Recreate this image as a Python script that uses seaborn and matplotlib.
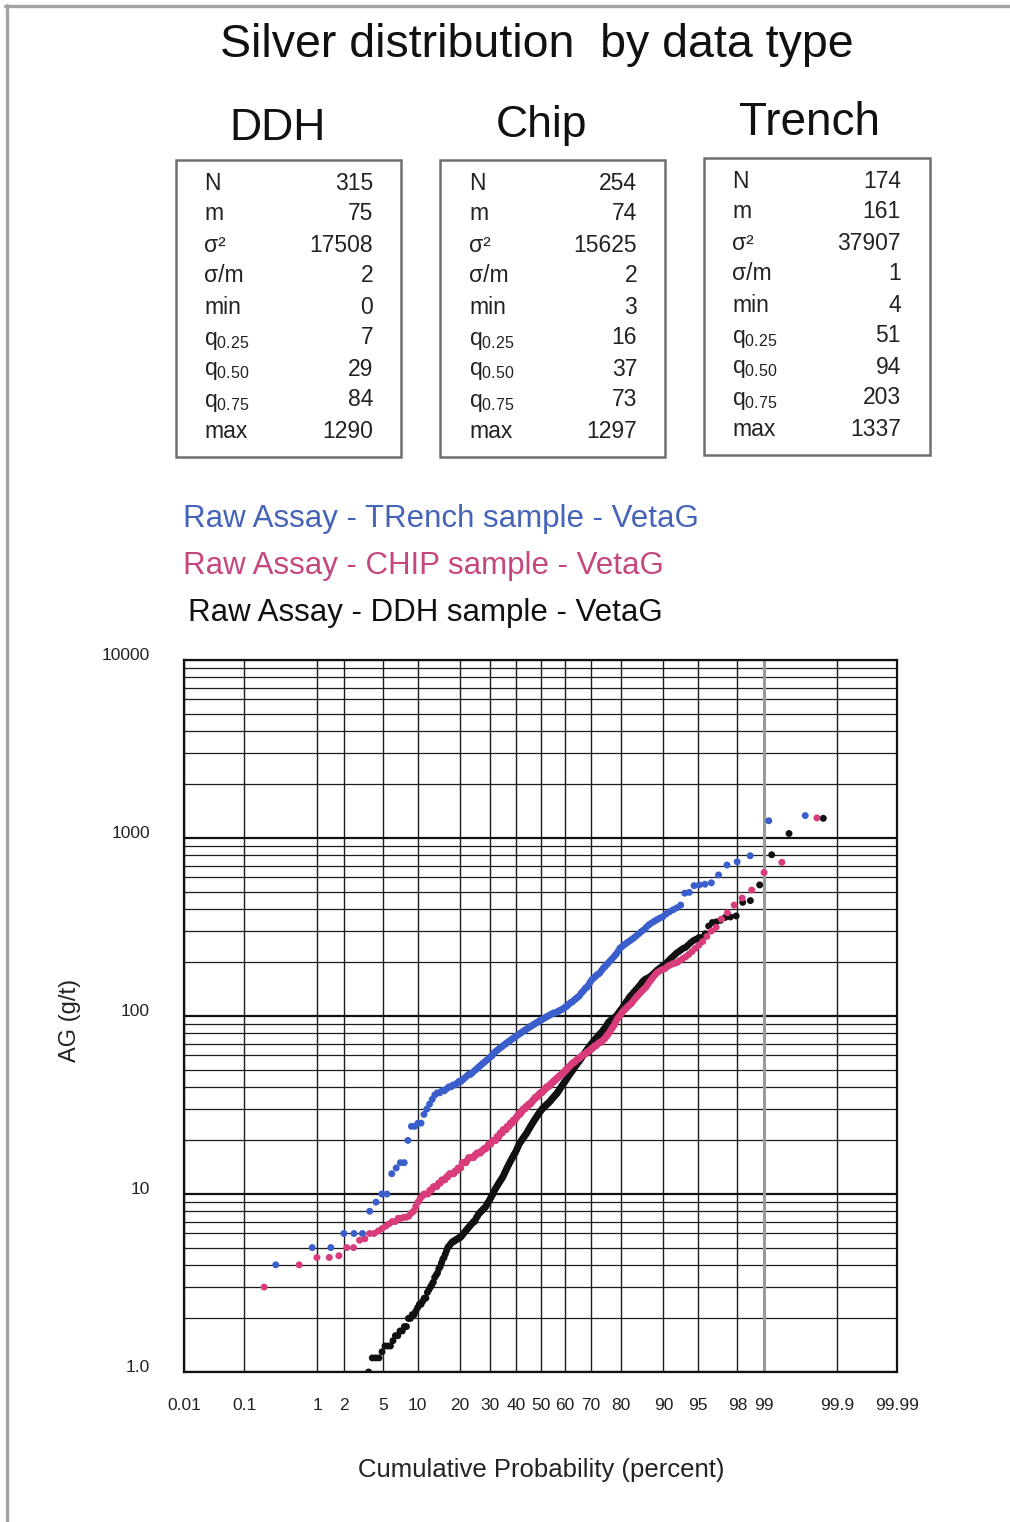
import math
import numpy as np
import pandas as pd
import matplotlib
matplotlib.use("Agg")
import matplotlib.pyplot as plt
import matplotlib.transforms as mtransforms
from matplotlib.lines import Line2D
from matplotlib.patches import Rectangle
from matplotlib.ticker import NullLocator, NullFormatter, FixedLocator
import seaborn as sns

# ---------------------------------------------------------------------------
# Sorted silver assays (g/t) for each sample type
# ---------------------------------------------------------------------------
ddh_ag = [
    0, 0.3, 0.4, 0.5, 0.5, 0.5, 0.6, 0.7, 0.8, 0.8, 0.9,
    1.0, 1.2, 1.2, 1.2,
    1.3, 1.4, 1.4, 1.4, 1.5,
    1.6, 1.6, 1.7, 1.7, 1.8,
    1.8, 2.0, 2.0, 2.1, 2.1,
    2.2, 2.3, 2.4, 2.4, 2.5,
    2.6, 2.6, 2.8, 2.9, 3.0,
    3.1, 3.2, 3.4, 3.5, 3.6,
    3.8, 3.9, 4.1, 4.3, 4.4,
    4.6, 4.8, 5.0, 5.1, 5.2, 5.3, 5.4, 5.4, 5.5, 5.5,
    5.6, 5.6, 5.7, 5.7, 5.8, 5.9, 6.0, 6.1, 6.2, 6.3,
    6.4, 6.5, 6.6, 6.7, 6.8, 6.9, 7.0, 7.0, 7.2, 7.4,
    7.5, 7.7, 7.8, 7.9, 8.0, 8.1, 8.2, 8.3, 8.4, 8.5,
    8.7, 8.9, 9.0, 9.2, 9.4, 9.6, 9.8, 10.0, 10.2, 10.5,
    10.7, 10.9, 11.1, 11.3, 11.5, 11.7, 11.9, 12.1, 12.3, 12.5,
    12.8, 13.1, 13.4, 13.7, 14.0, 14.3, 14.6, 14.9, 15.2, 15.5,
    15.8, 16.1, 16.4, 16.7, 17.0, 17.3, 17.7, 18.1, 18.5, 19.0,
    19.3, 19.6, 19.9, 20.2, 20.5, 20.8, 21.1, 21.4, 21.7, 22.0,
    22.4, 22.8, 23.2, 23.6, 24.0, 24.4, 24.8, 25.2, 25.6, 26.0,
    26.4, 26.8, 27.2, 27.6, 28.0, 28.4, 28.8, 29.2, 29.6, 30.0,
    30.3, 30.6, 30.9, 31.2, 31.5, 31.8, 32.1, 32.4, 32.7, 33.0,
    33.4, 33.8, 34.2, 34.6, 35.0, 35.4, 35.8, 36.2, 36.6, 37.0,
    37.6, 38.2, 38.8, 39.4, 40.0, 40.6, 41.2, 41.8, 42.4, 43.0,
    43.7, 44.4, 45.1, 45.8, 46.5, 47.2, 47.9, 48.6, 49.3, 50.0,
    50.8, 51.6, 52.4, 53.2, 54.0, 54.8, 55.6, 56.4, 57.2, 58.0,
    59, 60, 61, 62, 63, 64, 65, 66, 67, 68,
    69, 70, 71, 72, 73, 74, 75, 76, 77, 78,
    79, 80, 81, 82, 84, 85, 86, 88, 90, 92,
    93, 94, 95, 96, 97, 98, 99, 100, 102, 104,
    106, 108, 110, 112, 115, 117, 120, 122, 125, 128,
    130, 132, 135, 137, 140, 142, 145, 148, 151, 155,
    158, 160, 162, 163, 165, 167, 170, 173, 176, 180,
    183, 186, 189, 192, 195, 200, 205, 210,
    215, 220, 226, 230, 235, 240, 243, 250, 258, 265, 270, 276,
    276, 290, 320, 335, 338, 345, 358, 360, 365, 435, 445, 545, 805, 1060, 1290,
]

chip_ag = [
    3, 4, 4.4, 4.4, 4.5, 5, 5, 5.5, 5.6, 6,
    6, 6.2, 6.4, 6.6, 6.8, 7, 7, 7.3, 7.3, 7.4,
    7.4, 7.5, 7.8, 8, 8.5, 9, 9.4, 9.7, 10, 10,
    10, 10.5, 10.5, 11, 11, 11, 11.5, 11.5, 12, 12,
    12, 12.5, 12.5, 13, 13, 13, 13, 13.5, 13.5, 14,
    14, 14, 15, 15, 15, 15, 15.5, 16, 16, 16,
    16, 16, 16.5, 16.5, 17, 17, 17, 17, 17.5, 17.5,
    18, 18, 18, 18.5, 19, 19, 19, 19.5, 20, 20,
    20, 20, 21, 21, 21, 22, 22, 22, 23, 23,
    23, 23, 24, 24, 24, 25, 25, 25, 26, 26,
    26, 27, 27, 28, 28, 28, 29, 29, 30, 30,
    30, 31, 31, 31, 32, 32, 32, 33, 33, 34,
    34, 35, 35, 35, 36, 36, 37, 37, 37, 38,
    38, 39, 39, 40, 40, 40, 41, 41, 42, 42,
    43, 43, 44, 44, 45, 45, 46, 46, 47, 47,
    48, 48, 49, 50, 50, 51, 52, 52, 53, 54,
    54, 55, 55, 56, 57, 57, 58, 58, 59, 60,
    60, 61, 61, 62, 63, 63, 64, 65, 65, 66,
    67, 68, 68, 69, 70, 71, 71, 72, 73, 74,
    75, 77, 78, 80, 82, 84, 86, 88, 91, 94,
    97, 99, 101, 104, 106, 108, 110, 112, 114, 116,
    118, 121, 124, 127, 130, 133, 136, 139, 142, 145,
    150, 155, 160, 165, 170, 175, 178, 181, 183, 185,
    190, 193, 196, 198, 200,
    205, 210, 215, 222, 230,
    240, 250, 262, 280, 300,
    315, 350, 380, 420, 460, 510, 640, 730, 1297,
]

trench_ag = [
    4, 5, 5, 6, 6, 6, 8, 9, 10, 10,
    13, 14, 15, 15, 20, 24, 24, 25, 25, 28,
    30, 32, 34, 36, 37, 37,
    38, 38, 39, 40, 40, 41, 41, 42, 43,
    43, 44, 45, 46, 47, 47, 48, 49, 50, 51, 52,
    53, 54, 55, 56, 57, 58, 59, 60, 62, 63, 64, 65, 66,
    67, 68, 69, 70, 71, 72, 73, 74, 75, 76, 77, 78, 79,
    80, 81, 82, 83, 84, 85, 86, 87, 88, 89, 90, 91, 92, 93, 94,
    95, 96, 97, 98, 99, 100, 101, 102, 103, 104, 104, 105, 106, 107,
    108, 109, 110, 112, 113, 115, 117, 119, 120, 122, 124, 126, 128, 130,
    134, 137, 140, 144, 145, 150, 155, 160, 163, 166, 170, 172, 175,
    181, 186, 190, 195, 200, 205, 210, 216, 222, 230, 240,
    245, 250, 255, 260, 265, 270, 276, 283, 290,
    298, 305, 315, 325, 333, 340, 348, 355,
    362, 375, 385, 395, 405, 420,
    490, 495, 540, 545, 550, 560, 620, 705, 735, 795, 1250, 1337,
]

# Summary statistics shown above the plot
sample_types = ["DDH", "Chip", "Trench"]
stat_labels = ["N", "m", "σ²", "σ/m", "min",
               r"$\mathregular{q_{0.25}}$", r"$\mathregular{q_{0.50}}$",
               r"$\mathregular{q_{0.75}}$", "max"]
ddh_stats = [315, 75, 17508, 2, 0, 7, 29, 84, 1290]
chip_stats = [254, 74, 15625, 2, 3, 16, 37, 73, 1297]
trench_stats = [174, 161, 37907, 1, 4, 51, 94, 203, 1337]

series_names = ["Raw Assay - TRench sample - VetaG",
                "Raw Assay - CHIP sample - VetaG",
                "Raw Assay - DDH sample - VetaG"]

prob_ticks = [0.01, 0.1, 1, 2, 5, 10, 20, 30, 40, 50, 60, 70, 80, 90, 95, 98, 99, 99.9, 99.99]
prob_labels = ["0.01", "0.1", "1", "2", "5", "10", "20", "30", "40", "50", "60",
               "70", "80", "90", "95", "98", "99", "99.9", "99.99"]
ag_ticks = [1, 10, 100, 1000, 10000]
ag_labels = ["1.0", "10", "100", "1000", "10000"]

# ---------------------------------------------------------------------------
# Styling
# ---------------------------------------------------------------------------
sns.set_style("white")
plt.rcParams["font.family"] = ["Liberation Sans", "DejaVu Sans"]
plt.rcParams["mathtext.fontset"] = "custom"
plt.rcParams["mathtext.rm"] = "Liberation Sans"
plt.rcParams["mathtext.it"] = "Liberation Sans:italic"

colors = {"DDH": "#111111", "Chip": "#d83c7a", "Trench": "#3a5ecb"}
text_colors = {"DDH": "#111111", "Chip": "#c6467f", "Trench": "#4563b8"}

W, H = 1010, 1522
fig = plt.figure(figsize=(W / 100, H / 100), dpi=100)
fig.patch.set_facecolor("white")


def fx(x):
    return x / W


def fy(y):
    return 1 - y / H


# ---------------------------------------------------------------------------
# Normal-probability axis (percent)
# ---------------------------------------------------------------------------
_a = [-3.969683028665376e+01, 2.209460984245205e+02, -2.759285104469687e+02,
      1.383577518672690e+02, -3.066479806614716e+01, 2.506628277459239e+00]
_b = [-5.447609879822406e+01, 1.615858368580409e+02, -1.556989798598866e+02,
      6.680131188771972e+01, -1.328068155288572e+01]
_c = [-7.784894002430293e-03, -3.223964580411365e-01, -2.400758277161838e+00,
      -2.549732539343734e+00, 4.374664141464968e+00, 2.938163982698783e+00]
_d = [7.784695709041462e-03, 3.224671290700398e-01, 2.445134137142996e+00,
      3.754408661907416e+00]


def _norm_ppf(p):
    p = np.atleast_1d(np.asarray(p, dtype=float))
    shape = p.shape
    p = np.clip(p.ravel(), 1e-12, 1 - 1e-12)
    z = np.empty_like(p)
    lo = p < 0.02425
    hi = p > 1 - 0.02425
    mid = ~(lo | hi)
    q = np.sqrt(-2 * np.log(p[lo]))
    z[lo] = ((((( _c[0] * q + _c[1]) * q + _c[2]) * q + _c[3]) * q + _c[4]) * q + _c[5]) / \
            ((((_d[0] * q + _d[1]) * q + _d[2]) * q + _d[3]) * q + 1)
    q = p[mid] - 0.5
    r = q * q
    z[mid] = ((((( _a[0] * r + _a[1]) * r + _a[2]) * r + _a[3]) * r + _a[4]) * r + _a[5]) * q / \
             (((((_b[0] * r + _b[1]) * r + _b[2]) * r + _b[3]) * r + _b[4]) * r + 1)
    q = np.sqrt(-2 * np.log(1 - p[hi]))
    z[hi] = -((((( _c[0] * q + _c[1]) * q + _c[2]) * q + _c[3]) * q + _c[4]) * q + _c[5]) / \
             ((((_d[0] * q + _d[1]) * q + _d[2]) * q + _d[3]) * q + 1)
    return z.reshape(shape)


_erf = np.vectorize(math.erf, otypes=[float])


def pct_forward(x):
    return _norm_ppf(np.asarray(x, dtype=float) / 100.0)


def pct_inverse(z):
    z = np.asarray(z, dtype=float)
    return 50.0 * (1.0 + _erf(z / math.sqrt(2.0)))


# ---------------------------------------------------------------------------
# Long-form table: cumulative probability from the rank of each assay
# ---------------------------------------------------------------------------
frames = []
for name, values in [("DDH", ddh_ag), ("Chip", chip_ag), ("Trench", trench_ag)]:
    v = np.sort(np.asarray(values, dtype=float))
    n = len(v)
    rank = np.arange(1, n + 1)
    frames.append(pd.DataFrame({"sample": name,
                                "cum_pct": (rank - 0.5) / n * 100.0,
                                "ag": v}))
data = pd.concat(frames, ignore_index=True)
data = data[data["ag"] > 0]

ax = fig.add_axes([fx(184), fy(1372), fx(897) - fx(184), fy(660) - fy(1372)])
sns.scatterplot(data=data, x="cum_pct", y="ag", hue="sample", palette=colors,
                s=25, linewidth=0, legend=False, ax=ax, zorder=3)

ax.set_xscale("function", functions=(pct_forward, pct_inverse))
ax.set_yscale("log")
ax.set_xlim(0.01, 99.99)
ax.set_ylim(1, 10000)

ax.xaxis.set_major_locator(FixedLocator(prob_ticks))
ax.set_xticklabels(prob_labels)
ax.xaxis.set_minor_locator(NullLocator())
ax.yaxis.set_major_locator(FixedLocator(ag_ticks))
ax.yaxis.set_minor_locator(FixedLocator(
    [m * 10 ** e for e in range(0, 4) for m in range(2, 10)]))
ax.yaxis.set_major_formatter(NullFormatter())
ax.yaxis.set_minor_formatter(NullFormatter())
ax.tick_params(axis="both", which="both", length=0)
ax.tick_params(axis="x", pad=19, labelsize=12.5, labelcolor="#222222")

ax.set_axisbelow(True)
ax.grid(True, which="major", axis="x", color="#1c1c1c", lw=1.0)
ax.grid(True, which="major", axis="y", color="#111111", lw=1.6)
ax.grid(True, which="minor", axis="y", color="#1c1c1c", lw=0.9)
ax.axvline(99, color="#9a9a9a", lw=2.2, zorder=1.5)

for sp in ax.spines.values():
    sp.set_visible(True)
    sp.set_color("#111111")
    sp.set_linewidth(1.6)

ax.set_xlabel("")
ax.set_ylabel("")

# y tick labels placed to the upper left of each decade line
ylab_tr = mtransforms.blended_transform_factory(ax.transAxes, ax.transData) + \
    mtransforms.ScaledTranslation(0, 0.045, fig.dpi_scale_trans)
for val, lab in zip(ag_ticks, ag_labels):
    ax.text((150 - 184) / (897 - 184), val, lab, transform=ylab_tr,
            ha="right", va="center", fontsize=12.5, color="#222222")

fig.text(fx(70), fy(1020), "AG (g/t)", rotation=90, ha="center", va="center",
         fontsize=17, color="#222222")
fig.text(fx(541), fy(1470), "Cumulative Probability (percent)", ha="center",
         va="center", fontsize=18.5, color="#222222")

# ---------------------------------------------------------------------------
# Titles, coloured series captions and statistics boxes
# ---------------------------------------------------------------------------
fig.text(fx(537), fy(45), "Silver distribution  by data type", ha="center",
         va="center", fontsize=33.5, color="#111111")

caption_pos = [(183, 519), (183, 566), (188, 613)]
for (cx, cy), name, key in zip(caption_pos, series_names, ["Trench", "Chip", "DDH"]):
    fig.text(fx(cx), fy(cy), name, ha="left", va="center", fontsize=22.5,
             color=text_colors[key])

headers_xy = [(278, 128), (541, 125), (809, 123)]
header_sizes = [32, 32, 33]
boxes = [(176, 160, 401, 457), (440, 160, 665, 457), (704, 158, 930, 455)]
label_x = [204, 469, 732]
value_x = [373, 637, 901]
first_row = [182, 182, 180]
all_stats = [ddh_stats, chip_stats, trench_stats]

for k, name in enumerate(sample_types):
    hx, hy = headers_xy[k]
    fig.text(fx(hx), fy(hy), name, ha="center", va="center",
             fontsize=header_sizes[k], color="#111111")
    x0, y0, x1, y1 = boxes[k]
    fig.add_artist(Rectangle((fx(x0), fy(y1)), fx(x1) - fx(x0), fy(y0) - fy(y1),
                             transform=fig.transFigure, fill=False,
                             ec="#6e6e6e", lw=1.8))
    for r, (lab, val) in enumerate(zip(stat_labels, all_stats[k])):
        base = first_row[k] + 7.5 + r * 31
        fig.text(fx(label_x[k]), fy(base), lab, ha="left", va="baseline",
                 fontsize=16.5, color="#222222")
        fig.text(fx(value_x[k]), fy(base), str(val), ha="right", va="baseline",
                 fontsize=16.5, color="#222222")

# Page frame
fig.add_artist(Line2D([fx(7), fx(7)], [fy(5), fy(H)], transform=fig.transFigure,
                      color="#a3a3a3", lw=2.4))
fig.add_artist(Line2D([fx(5), fx(W)], [fy(6), fy(6)], transform=fig.transFigure,
                      color="#a3a3a3", lw=2.4))

fig.savefig("out.png", dpi=100, facecolor="white")
